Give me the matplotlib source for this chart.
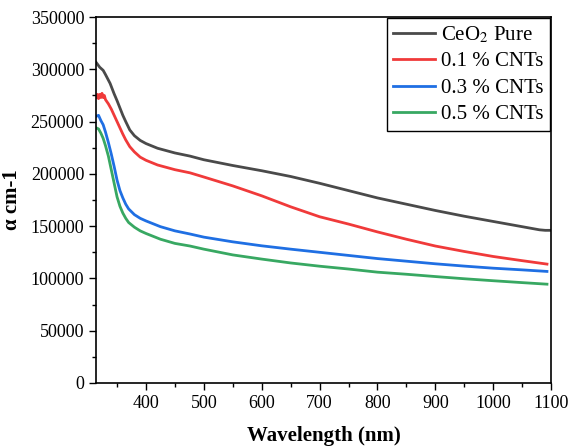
import matplotlib.pyplot as plt
import numpy as np

plt.rcParams.update({
    "font.family": "serif",
    "font.serif": ["Liberation Serif", "DejaVu Serif"],
    "font.size": 13,
    "mathtext.fontset": "stix",
})

# wavelength (nm) and absorption coefficient values
wl_pure = [314, 320, 326, 330, 338, 345, 350, 355, 360, 365, 372, 380, 390, 400, 420,
           450, 476, 500, 550, 600, 650, 700, 750, 800, 850, 900, 950, 1000, 1050,
           1080, 1090, 1100]
a_pure = [306500, 302000, 299000, 295000, 286500, 276500, 270000, 263000, 256000,
          250000, 242000, 236500, 232000, 229000, 224500, 220000, 217000, 213500,
          208000, 203000, 197500, 191000, 184000, 177000, 171000, 165000, 159500,
          154500, 149500, 146500, 146000, 146000]

wl_01 = [314, 316, 318, 320, 322, 324, 326, 328, 330, 335, 340, 345, 350, 355, 360,
         365, 372, 380, 390, 400, 420, 450, 476, 500, 550, 600, 650, 700, 750, 800,
         850, 900, 950, 1000, 1050, 1093]
a_01 = [273000, 276000, 272000, 276000, 273000, 277000, 273000, 275000, 271000,
        267000, 262000, 256000, 250000, 244000, 238000, 232500, 226000, 221000,
        216000, 213000, 208500, 204000, 201000, 197000, 188500, 179000, 168500,
        159000, 152000, 144500, 137500, 131000, 125800, 121000, 117000, 113700]

wl_03 = [314, 318, 322, 326, 330, 335, 340, 345, 350, 355, 360, 365, 370, 380, 390,
         400, 425, 450, 476, 500, 550, 600, 650, 700, 750, 800, 850, 900, 950, 1000,
         1050, 1093]
a_03 = [255000, 256000, 251000, 247000, 240000, 230000, 219000, 207000, 194000,
        184000, 177000, 171000, 166500, 161000, 157500, 155000, 149500, 145500,
        142500, 139500, 135000, 131200, 128000, 125000, 122000, 119000, 116500,
        114000, 111800, 109800, 108200, 106700]

wl_05 = [314, 318, 322, 326, 330, 335, 340, 345, 350, 355, 360, 365, 370, 380, 390,
         400, 425, 450, 476, 500, 550, 600, 650, 700, 750, 800, 850, 900, 950, 1000,
         1050, 1093]
a_05 = [244000, 243000, 239000, 234000, 227000, 217000, 204000, 191000, 178000,
        169000, 162500, 157500, 153500, 149000, 145500, 143000, 137500, 133500,
        131000, 128000, 122500, 118500, 114800, 111700, 109000, 106000, 104000,
        101800, 99700, 97800, 96000, 94500]

labels = [r"CeO$_2$ Pure", "0.1 % CNTs", "0.3 % CNTs", "0.5 % CNTs"]
colors = ["#4a4a4a", "#f03a3a", "#1f6fe3", "#38a862"]

fig = plt.figure(figsize=(5.69, 4.48), dpi=100)
ax = fig.add_axes([0.1687, 0.1451, 0.7997, 0.8169])

for wl, a, lab, c in zip([wl_pure, wl_01, wl_03, wl_05], [a_pure, a_01, a_03, a_05],
                         labels, colors):
    ax.plot(wl, a, color=c, lw=2, label=lab)

ax.set_xlim(313.6, 1100)
ax.set_ylim(0, 350000)
ax.set_xticks(np.arange(400, 1101, 100))
ax.set_xticks(np.arange(350, 1100, 50), minor=True)
ax.set_yticks(np.arange(0, 350001, 50000))
ax.set_yticks(np.arange(25000, 350000, 50000), minor=True)
ax.tick_params(direction="out", which="both", top=False, right=False, width=1)
ax.tick_params(which="major", length=5)
ax.tick_params(which="minor", length=3)
for s in ax.spines.values():
    s.set_linewidth(1.2)

ax.set_xlabel("Wavelength (nm)", fontsize=15, fontweight="bold", labelpad=10)
ax.set_ylabel("α cm-1", fontsize=15, fontweight="bold", labelpad=6)

leg = ax.legend(loc="upper right", fancybox=False, framealpha=1, edgecolor="black",
                borderaxespad=0.05, handlelength=2.0, handletextpad=0.3,
                labelspacing=0.33, borderpad=0.3, fontsize=15)
leg.get_frame().set_linewidth(1)

fig.savefig("out.png", dpi=100)
